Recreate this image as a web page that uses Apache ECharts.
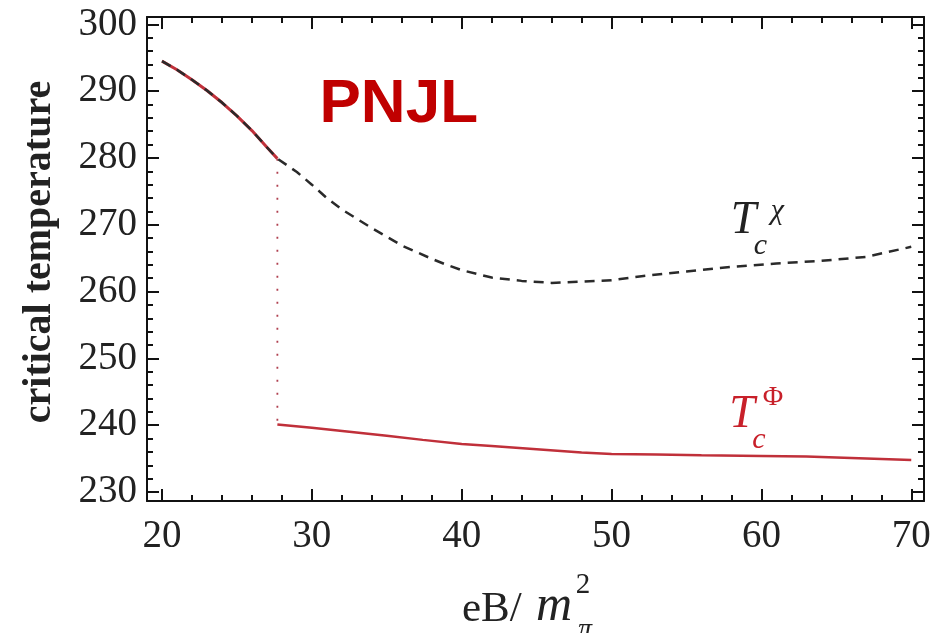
<!DOCTYPE html>
<html>
<head>
<meta charset="utf-8">
<script src="https://cdn.jsdelivr.net/npm/echarts@6/dist/echarts.min.js"></script>
<style>
  html, body { margin: 0; padding: 0; background: #fff; }
  #chart { width: 933px; height: 633px; }
</style>
</head>
<body>
<div id="chart"></div>
<script>
// Critical temperatures vs magnetic field (PNJL model)
// Chiral transition T_c^chi (dashed)
const eBChi = [20, 21, 22, 23, 24, 25, 26, 27, 27.7, 29, 30, 31, 32, 33, 34, 35, 36, 37, 38, 39, 40,
               42, 44, 46, 48, 50, 52, 55, 58, 61, 64, 67, 70];
const tChi  = [294.5, 293.2, 291.7, 290.1, 288.3, 286.3, 284.1, 281.6, 279.9, 277.9, 276.0, 274.0, 272.3,
               270.9, 269.5, 268.2, 266.9, 265.9, 264.9, 264.0, 263.2,
               262.1, 261.6, 261.3, 261.5, 261.7, 262.3, 263.0, 263.7, 264.2, 264.6, 265.2, 266.7];
// Deconfinement transition T_c^Phi: coincides with T_c^chi below the jump
const eBJump = 27.7;
const eBPhiLow = [27.7, 30, 32.5, 35, 37.4, 40, 42, 45, 48, 50, 53, 56, 60, 63, 66, 70];
const tPhiLow  = [240.1, 239.6, 239.0, 238.4, 237.8, 237.2, 236.9, 236.4, 235.9, 235.7, 235.6, 235.5,
                  235.4, 235.3, 235.1, 234.8];

// Axis ticks
const xMajor = [20, 30, 40, 50, 60, 70];
const xMinor = [22, 24, 26, 28, 32, 34, 36, 38, 42, 44, 46, 48, 52, 54, 56, 58, 62, 64, 66, 68, 70];
const yMajor = [230, 240, 250, 260, 270, 280, 290, 300];
const yMinor = [232, 234, 236, 238, 242, 244, 246, 248, 252, 254, 256, 258, 262, 264, 266, 268,
                272, 274, 276, 278, 282, 284, 286, 288, 292, 294, 296, 298];

const X_MIN = 19, X_MAX = 70.85, Y_MIN = 228.65, Y_MAX = 301.1;

const pairs = (xs, ys) => xs.map((x, i) => [x, ys[i]]);
const jumpIdx = eBChi.indexOf(eBJump);
const sharedPart = pairs(eBChi.slice(0, jumpIdx + 1), tChi.slice(0, jumpIdx + 1));

const SERIF = '"Liberation Serif", "DejaVu Serif", serif';
const RED = '#c0303a';
const INK = '#222';

function xAx(position, ticks, len, withLabels, withLine) {
  return {
    type: 'value', position, min: X_MIN, max: X_MAX, gridIndex: 0,
    splitLine: { show: false },
    axisLine: { show: withLine, onZero: false, lineStyle: { color: '#111', width: 2 } },
    axisTick: { show: true, inside: true, length: len, customValues: ticks,
                lineStyle: { color: '#111', width: 2 } },
    axisLabel: withLabels
      ? { show: true, customValues: ticks, margin: 16, color: INK, fontFamily: SERIF, fontSize: 39 }
      : { show: false }
  };
}
function yAx(position, ticks, len, withLabels, withLine) {
  return {
    type: 'value', position, min: Y_MIN, max: Y_MAX, gridIndex: 0,
    splitLine: { show: false },
    axisLine: { show: withLine, onZero: false, lineStyle: { color: '#111', width: 2 } },
    axisTick: { show: true, inside: true, length: len, customValues: ticks,
                lineStyle: { color: '#111', width: 2 } },
    axisLabel: withLabels
      ? { show: true, customValues: ticks, margin: 10, color: INK, fontFamily: SERIF, fontSize: 39 }
      : { show: false }
  };
}

const yMain = yAx('left', yMajor, 12, true, true);
yMain.name = 'critical temperature';
yMain.nameLocation = 'middle';
yMain.nameRotate = 90;
yMain.nameGap = 87;
yMain.nameTextStyle = { fontFamily: SERIF, fontWeight: 'bold', fontSize: 40, color: INK, padding: [0, 0, 0, 14] };

const option = {
  animation: false,
  backgroundColor: '#fff',
  grid: { left: 147, right: 9, top: 17, bottom: 132, containLabel: false, outerBoundsMode: 'none' },
  xAxis: [
    xAx('bottom', xMajor, 12, true, true),
    xAx('bottom', xMinor, 6, false, false),
    xAx('top', xMajor, 12, false, true),
    xAx('top', xMinor, 6, false, false)
  ],
  yAxis: [
    yMain,
    yAx('left', yMinor, 6, false, false),
    yAx('right', yMajor, 12, false, true),
    yAx('right', yMinor, 6, false, false)
  ],
  series: [
    {
      name: 'T_c^Phi (coinciding)', type: 'line', showSymbol: false, symbol: 'none',
      data: sharedPart, lineStyle: { color: RED, width: 3 }, z: 2
    },
    {
      name: 'T_c^Phi', type: 'line', showSymbol: false, symbol: 'none',
      data: pairs(eBPhiLow, tPhiLow), lineStyle: { color: RED, width: 2.5 }, z: 2
    },
    {
      name: 'jump', type: 'line', showSymbol: false, symbol: 'none',
      data: [[eBJump, tChi[jumpIdx]], [eBJump, tPhiLow[0]]],
      lineStyle: { color: '#b04050', width: 1.8, type: [2, 11] }, z: 2
    },
    {
      name: 'T_c^chi', type: 'line', showSymbol: false, symbol: 'none',
      data: pairs(eBChi, tChi), lineStyle: { color: '#2a2a2a', width: 2.5, type: [10, 7] }, z: 3
    }
  ]
};

const chart = echarts.init(document.getElementById('chart'), null, { renderer: 'canvas' });
chart.setOption(option);

// Annotations anchored in data coordinates
function px(x, y) { return chart.convertToPixel({ gridIndex: 0 }, [x, y]); }
function txt(x, y, text, font, color, align) {
  return { type: 'text', x, y, silent: true,
           style: { text, font, fill: color, textAlign: align || 'center', textVerticalAlign: 'middle' } };
}
function tcLabel(anchor, sup, color, supFont, supDx, supDy) {
  const [x, y] = px(anchor[0], anchor[1]);
  return {
    type: 'group', x, y, children: [
      txt(0, 0, 'T', 'italic 46px ' + SERIF, color),
      txt(17, 25, 'c', 'italic 30px ' + SERIF, color),
      txt(supDx, supDy, sup, supFont, color)
    ]
  };
}
const pnjl = px(35.8, 288.0);
const graphics = [
  txt(pnjl[0], pnjl[1], 'PNJL', 'bold 62px "Liberation Sans", Arial, sans-serif', '#c00000'),
  tcLabel([58.8, 270.6], 'χ', '#222', 'italic 30px ' + SERIF, 34, -10),
  tcLabel([58.7, 241.5], 'Φ', '#c8202a', '28px ' + SERIF, 31, -18),
  // x-axis title eB/m_pi^2
  { type: 'group', x: 462, y: 610, children: [
      { type: 'text', x: 0, y: 0, silent: true,
        style: { text: 'eB/', font: '43px ' + SERIF, fill: INK, textVerticalAlign: 'middle' } },
      { type: 'text', x: 74, y: -3, silent: true,
        style: { text: 'm', font: 'italic 50px ' + SERIF, fill: INK, textVerticalAlign: 'middle' } },
      txt(121, -25, '2', '29px ' + SERIF, INK),
      txt(123, 20, 'π', 'italic 28px ' + SERIF, INK)
  ] }
];
chart.setOption({ graphic: graphics });
</script>
</body>
</html>
